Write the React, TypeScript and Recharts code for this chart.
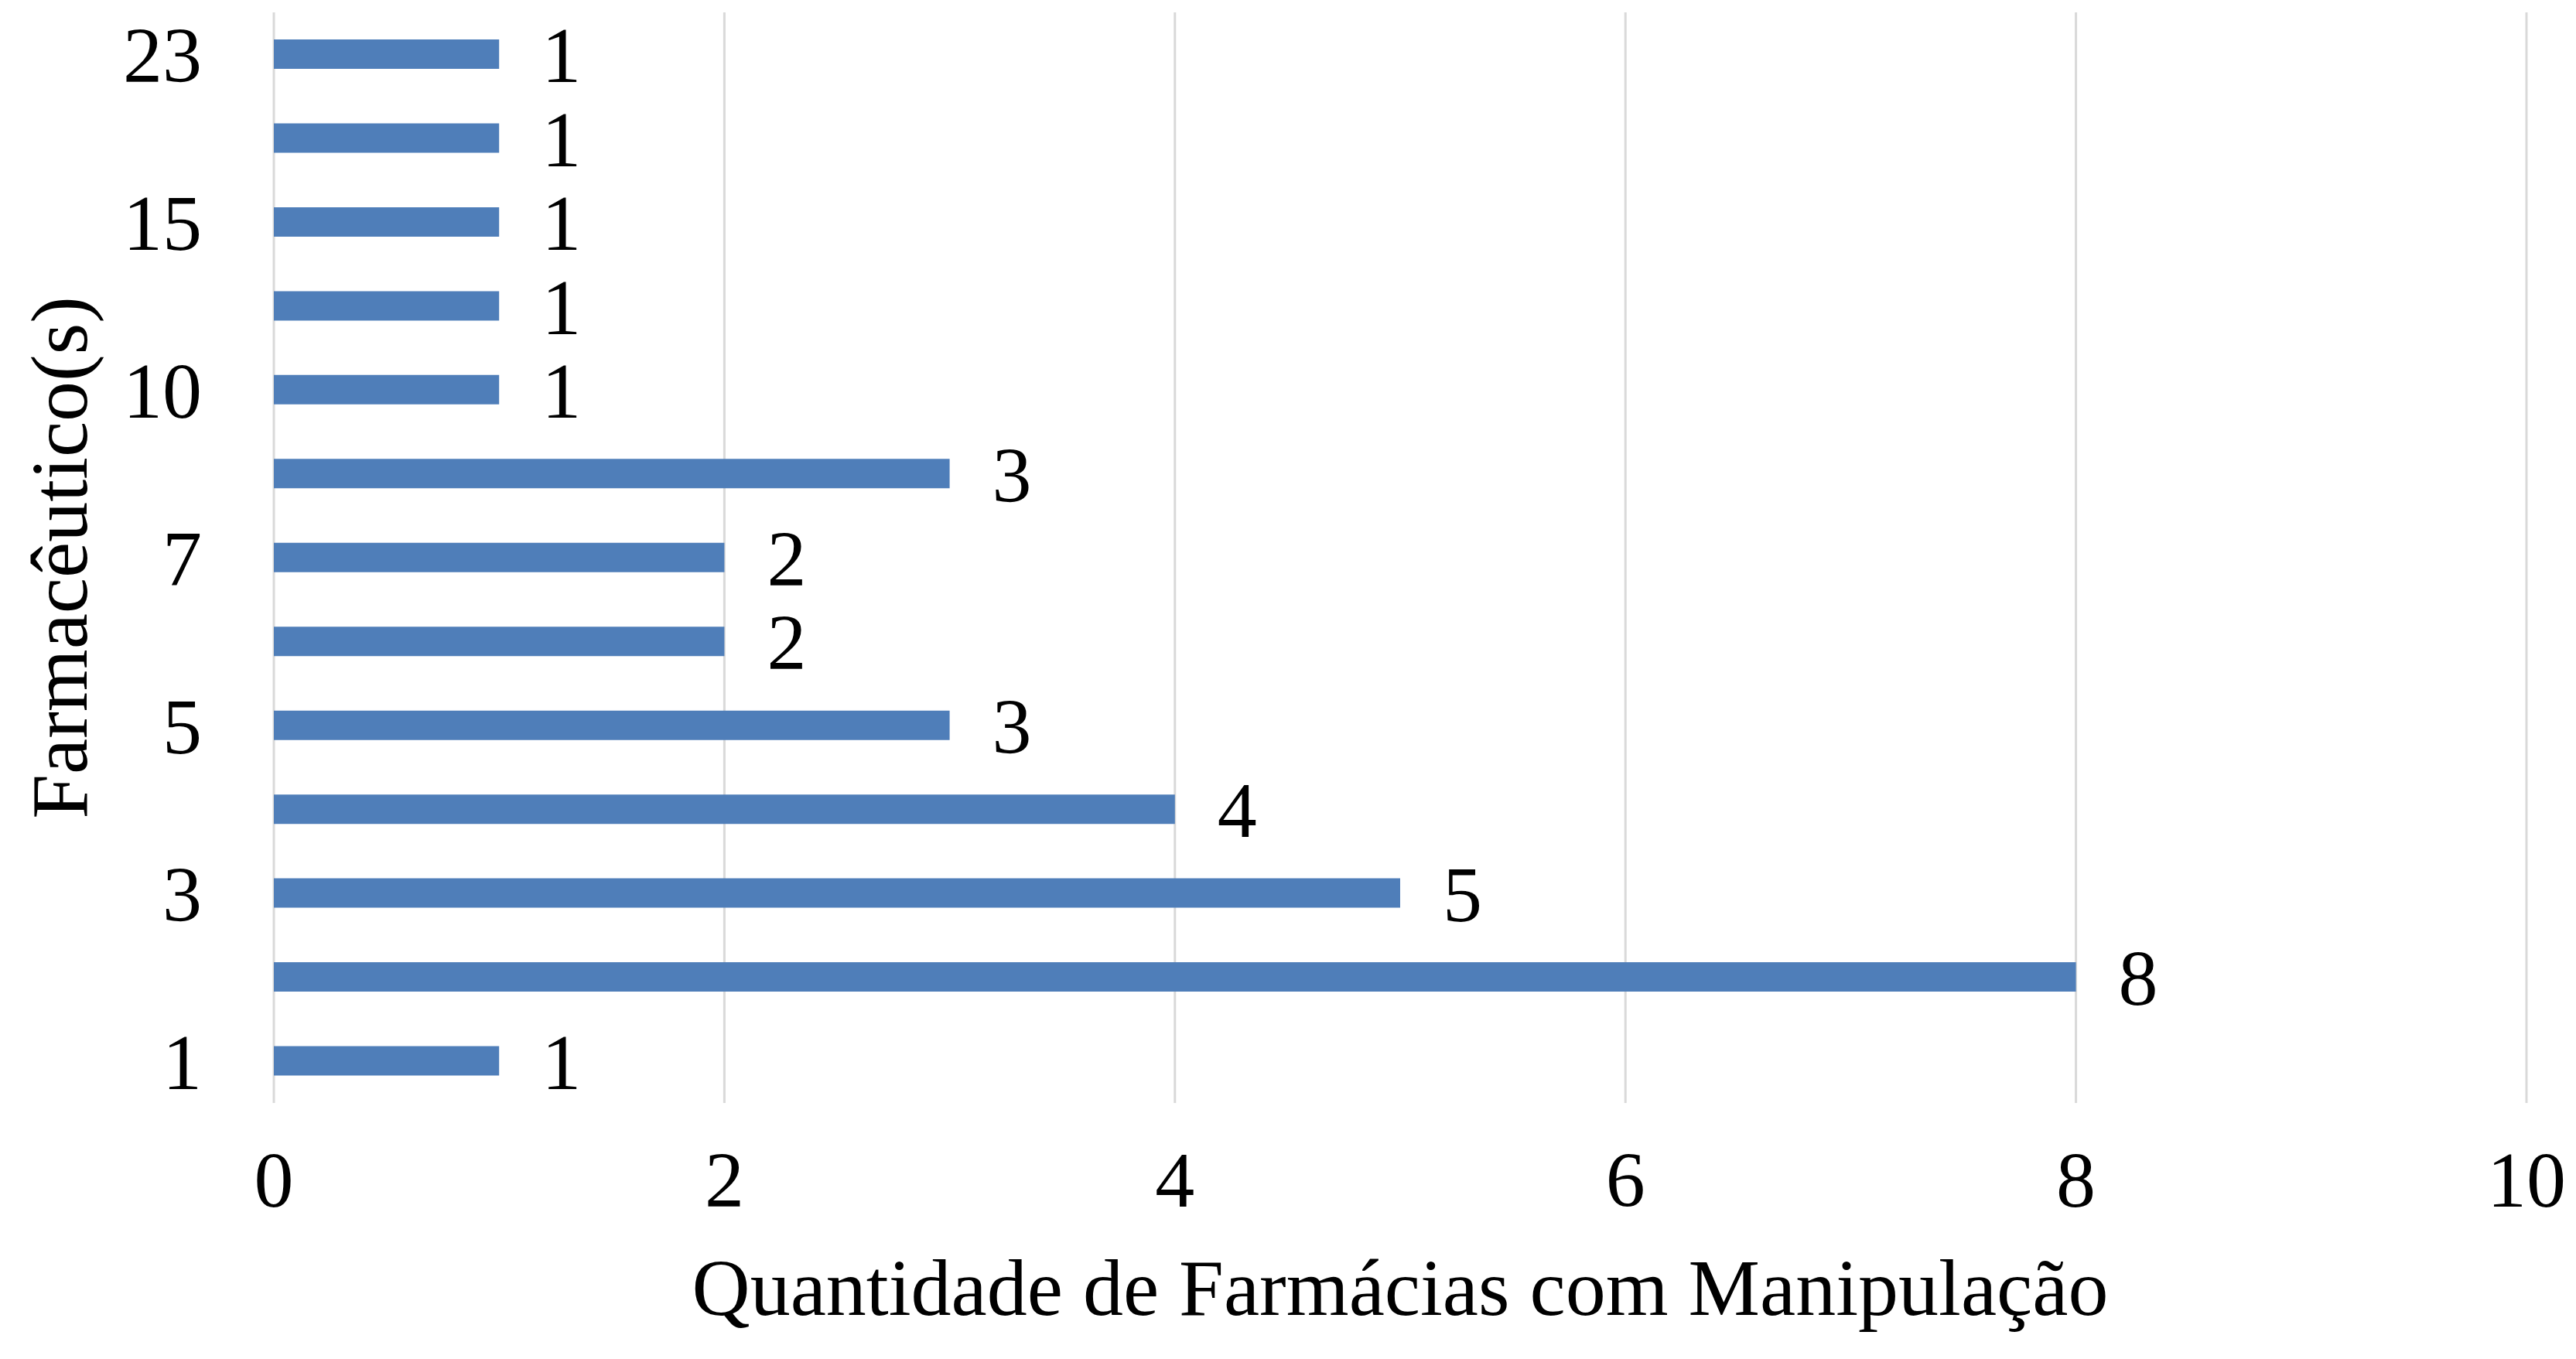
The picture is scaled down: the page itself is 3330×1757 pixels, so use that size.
import React from 'react';
import { BarChart, Bar, XAxis, YAxis, CartesianGrid, LabelList, Label } from 'recharts';

// número de farmacêuticos (de cima para baixo)
const categorias = ['23', '20', '15', '12', '10', '8', '7', '6', '5', '4', '3', '2', '1'];
// quantidade de farmácias com manipulação
const quantidades = [1, 1, 1, 1, 1, 3, 2, 2, 3, 4, 5, 8, 1];
const ticksX = [0, 2, 4, 6, 8, 10];

const tituloX = 'Quantidade de Farmácias com Manipulação';
const tituloY = 'Farmacêutico(s)';

const dados = categorias.map((c, i) => ({ farmaceuticos: c, quantidade: quantidades[i] }));

const fonte = '"Liberation Serif", "Times New Roman", serif';
const azul = '#4F7EB9';

const TituloX = ({ viewBox }: any) => (
  <text
    x={viewBox.x + viewBox.width / 2}
    y={viewBox.y + 274}
    textAnchor="middle"
    fontFamily={fonte}
    fontSize={104}
    fill="#000"
  >
    {tituloX}
  </text>
);

const TituloY = ({ viewBox }: any) => {
  const cx = 104;
  const cy = viewBox.y + viewBox.height / 2;
  return (
    <text
      x={cx}
      y={cy}
      transform={`rotate(-90, ${cx}, ${cy})`}
      textAnchor="middle"
      fontFamily={fonte}
      fontSize={104}
      fill="#000"
    >
      {tituloY}
    </text>
  );
};

const App: React.FC = () => {
  return (
    <div style={{ width: 3322, height: 1749, background: '#fff' }}>
      <BarChart
        width={3322}
        height={1749}
        data={dados}
        layout="vertical"
        margin={{ top: 8, right: 64, bottom: 0, left: 0 }}
      >
        <CartesianGrid horizontal={false} stroke="#d9d9d9" strokeWidth={3} />
        <XAxis
          type="number"
          domain={[0, 10]}
          ticks={ticksX}
          axisLine={false}
          tickLine={false}
          tickSize={0}
          tickMargin={62}
          height={331}
          tick={{ fontSize: 102, fontFamily: fonte, fill: '#000' }}
        >
          <Label content={<TituloX />} />
        </XAxis>
        <YAxis
          type="category"
          dataKey="farmaceuticos"
          width={346}
          interval={1}
          axisLine={false}
          tickLine={false}
          tickSize={0}
          tickMargin={93}
          tick={{ fontSize: 102, fontFamily: fonte, fill: '#000' }}
        >
          <Label content={<TituloY />} />
        </YAxis>
        <Bar dataKey="quantidade" fill={azul} barSize={38} isAnimationActive={false}>
          <LabelList
            dataKey="quantidade"
            position="right"
            offset={55}
            fill="#000"
            fontSize={102}
            fontFamily={fonte}
          />
        </Bar>
      </BarChart>
    </div>
  );
};

export default App;
